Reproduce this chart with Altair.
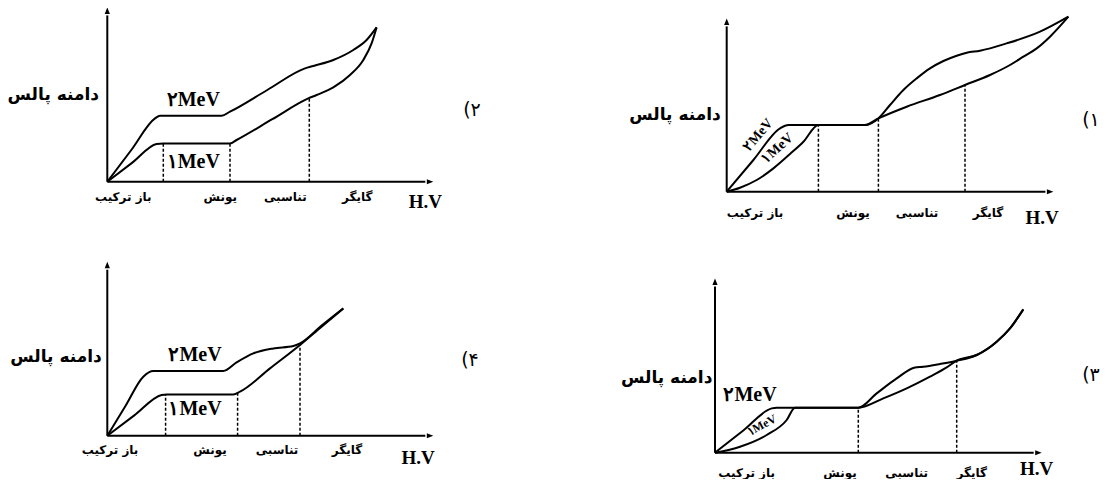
import altair as alt
import pandas as pd

# ---------------- data (local units: right / up from each panel's axis origin) ----------------
panels = ["1", "2", "3", "4"]

p1_2mev_x = [0, 26.7, 53.3, 61.7, 138.3, 151.7, 163.3, 176.7, 190, 203.3, 216.7, 230, 240, 253.3, 280, 313.3, 341.7]
p1_2mev_y = [0, 31.7, 63.3, 66.7, 66.7, 73.3, 86.7, 101.7, 113.3, 123.3, 130.7, 136, 139, 141, 148.3, 160, 175]
p1_1mev_x = [0, 13.3, 30, 46.7, 63.3, 76.7, 91.7, 138.3, 151.7, 180, 213.3, 238.3, 263.3, 283.3, 296.7, 310, 323.3, 341.7]
p1_1mev_y = [0, 4, 11.7, 23.3, 37.7, 50, 66.7, 66.7, 73.3, 85, 96.7, 106.7, 116.7, 126.7, 135, 143.3, 155, 175]
p1_dash_x = [91.7, 151.7, 238.3]
p1_dash_y = [66.7, 73.3, 106.7]

p2_2mev_x = [0, 24, 47.7, 52.7, 114.3, 122.7, 160, 197.7, 206, 226, 246, 259.3, 269.3]
p2_2mev_y = [0, 31.7, 63.3, 66, 66, 70, 91.7, 113.3, 115.7, 121.7, 131.7, 141.7, 154.3]
p2_1mev_x = [0, 24.7, 49.3, 56, 122.7, 129.3, 165, 201, 209.3, 226, 242.7, 256, 264.3, 269.3]
p2_1mev_y = [0, 18.8, 37.7, 38.3, 38.3, 41.7, 62.5, 83.3, 86.7, 94.3, 106.7, 121.7, 138.3, 154.3]
p2_dash_x = [56, 122.7, 202]
p2_dash_y = [38.3, 38.3, 84]

p3_2mev_x = [0, 28.3, 56.7, 61.7, 143.3, 161.7, 181.7, 200, 208.3, 225, 241.7, 261.7, 281.7, 295, 308.3]
p3_2mev_y = [0, 22.2, 44.3, 45, 45, 59.3, 74.3, 85.3, 86, 88.7, 92, 97.7, 111, 124.3, 143.3]
p3_1mev_x = [0, 25, 51.7, 71.7, 80, 143.3, 168.3, 191.7, 215, 231.7, 241.7, 261.7, 281.7, 295, 308.3]
p3_1mev_y = [0, 6, 17.7, 32.7, 45, 45, 54.3, 64.3, 76, 85.3, 92, 97.7, 111, 124.3, 143.3]
p3_dash_x = [143.3, 241.7]
p3_dash_y = [45, 92]

p4_2mev_x = [0, 18, 36, 46, 116, 129.3, 146, 166, 186, 192.7, 214, 236]
p4_2mev_y = [0, 29.5, 59, 64.7, 64.7, 73.3, 82.3, 87.3, 89.7, 92.3, 109.8, 127.3]
p4_1mev_x = [0, 27, 54.3, 59.3, 126, 132.7, 162.7, 192.7, 214, 236]
p4_1mev_y = [0, 20.3, 40.7, 41.3, 41.3, 44, 67.3, 90.7, 108.8, 127.3]
p4_dash_x = [58.3, 130.3, 192.7]
p4_dash_y = [41.3, 44, 90.7]

axis_top = {"1": 173.3, "2": 174.3, "3": 174.3, "4": 174}
axis_right = {"1": 326.7, "2": 326, "3": 326.7, "4": 326}

region_labels = ["باز ترکیب", "یونش", "تناسبی", "گایگر"]
y_title = "دامنه پالس"
x_title = "H.V"
panel_labels = {"1": "(۱", "2": "(۲", "3": "(۳", "4": "(۴"}
series_labels = ["۲MeV", "۱MeV"]

# ---------------- layout (page positions of each panel's axis origin, label offsets) ----------------
origin = {"1": (726.7, 191.7), "2": (107.3, 181.7), "3": (715, 452.7), "4": (107.3, 435.7)}
region_label_pos = {
    "1": ([28.3, 126.3, 190.3, 261.3], -21.3),
    "2": ([16, 113, 178, 250], -15.3),
    "3": ([31.7, 125, 191.7, 256.7], -20.7),
    "4": ([2.7, 102.7, 169.7, 239.7], -14.3),
}
x_title_pos = {"1": (315.3, -26.3), "2": (318, -20), "3": (321.7, -16), "4": (310.7, -22.3)}
y_title_pos = {"1": (-51.7, 76.7), "2": (-54, 86.7), "3": (-48.3, 74.3), "4": (-51.3, 79)}
panel_label_pos = {"1": (364.3, 71.7), "2": (364.7, 71.7), "3": (376, 77.7), "4": (362.7, 75.7)}
# (x, y, size, angle) for 2MeV / 1MeV
series_label_pos = {
    "1": [(31.7, 56.7, 14, 310), (50.7, 43.3, 14, 318)],
    "2": [(86, 81.7, 20, 0), (86, 19.3, 20, 0)],
    "3": [(35, 57.7, 20, 0), (46.7, 27.7, 12, 332)],
    "4": [(87.7, 80.7, 20, 0), (87.7, 26.3, 20, 0)],
}

W, H = 1094, 471


def to_plot(p, dx, dy):
    ox, oy = origin[p]
    return ox - 8 + dx, 479 - oy + dy


curve_src = {
    "1": [(p1_2mev_x, p1_2mev_y), (p1_1mev_x, p1_1mev_y)],
    "2": [(p2_2mev_x, p2_2mev_y), (p2_1mev_x, p2_1mev_y)],
    "3": [(p3_2mev_x, p3_2mev_y), (p3_1mev_x, p3_1mev_y)],
    "4": [(p4_2mev_x, p4_2mev_y), (p4_1mev_x, p4_1mev_y)],
}
dash_src = {"1": (p1_dash_x, p1_dash_y), "2": (p2_dash_x, p2_dash_y),
            "3": (p3_dash_x, p3_dash_y), "4": (p4_dash_x, p4_dash_y)}

curve_rows, dash_rows, axis_rows, arrow_up, arrow_right = [], [], [], [], []
reg_rows, xt_rows, yt_rows, pl_rows, sl_rows = [], [], [], [], []
for p in panels:
    for si, (xs, ys) in enumerate(curve_src[p]):
        for i, (a, b) in enumerate(zip(xs, ys)):
            X, Y = to_plot(p, a, b)
            curve_rows.append({"key": f"{p}-{si}", "x": X, "y": Y, "o": i})
    for a, b in zip(*dash_src[p]):
        X, Y0 = to_plot(p, a, 0)
        _, Y1 = to_plot(p, a, b)
        dash_rows.append({"x": X, "y": Y0, "y2": Y1})
    X0, Y0 = to_plot(p, 0, 0)
    Xt, Yt = to_plot(p, 0, axis_top[p])
    Xr, Yr = to_plot(p, axis_right[p], 0)
    axis_rows.append({"x": X0, "y": Y0, "x2": X0, "y2": Yt - 8})
    axis_rows.append({"x": X0, "y": Y0, "x2": Xr - 8, "y2": Y0})
    arrow_up.append({"x": Xt, "y": Yt})
    arrow_right.append({"x": Xr, "y": Yr})
    xs, yy = region_label_pos[p]
    for lab, a in zip(region_labels, xs):
        X, Y = to_plot(p, a, yy)
        reg_rows.append({"x": X, "y": Y, "t": lab})
    X, Y = to_plot(p, *x_title_pos[p])
    xt_rows.append({"x": X, "y": Y, "t": x_title})
    X, Y = to_plot(p, *y_title_pos[p])
    yt_rows.append({"x": X, "y": Y, "t": y_title})
    X, Y = to_plot(p, *panel_label_pos[p])
    pl_rows.append({"x": X, "y": Y, "t": panel_labels[p]})
    for lab, (a, b, s, ang) in zip(series_labels, series_label_pos[p]):
        X, Y = to_plot(p, a, b)
        sl_rows.append({"x": X, "y": Y, "t": lab, "s": s, "a": ang})

xs_ = alt.Scale(domain=[0, W], nice=False, zero=False)
ys_ = alt.Scale(domain=[0, H], nice=False, zero=False)


def X(f="x"):
    return alt.X(f, type="quantitative", scale=xs_, axis=None)


def Y(f="y"):
    return alt.Y(f, type="quantitative", scale=ys_, axis=None)


curves = alt.Chart(pd.DataFrame(curve_rows)).mark_line(
    color="black", strokeWidth=2, interpolate="monotone"
).encode(x=X(), y=Y(), detail="key:N", order="o:Q")

dashes = alt.Chart(pd.DataFrame(dash_rows)).mark_rule(
    color="black", strokeWidth=1.5, strokeDash=[3, 2]
).encode(x=X(), y=Y(), y2="y2:Q")

axes = alt.Chart(pd.DataFrame(axis_rows)).mark_rule(
    color="black", strokeWidth=2
).encode(x=X(), y=Y(), x2="x2:Q", y2="y2:Q")

up = alt.Chart(pd.DataFrame(arrow_up)).mark_point(
    shape="M0,0L-0.4,1L0.4,1Z", filled=True, color="black", opacity=1, size=169
).encode(x=X(), y=Y())

right = alt.Chart(pd.DataFrame(arrow_right)).mark_point(
    shape="M0,0L-1,-0.38L-1,0.38Z", filled=True, color="black", opacity=1, size=169
).encode(x=X(), y=Y())

reg = alt.Chart(pd.DataFrame(reg_rows)).mark_text(
    font="DejaVu Sans", fontSize=12, fontWeight="bold", color="black",
    align="center", baseline="middle"
).encode(x=X(), y=Y(), text="t:N")

xt = alt.Chart(pd.DataFrame(xt_rows)).mark_text(
    font="Liberation Serif", fontSize=19, fontWeight="bold", color="black",
    align="center", baseline="middle"
).encode(x=X(), y=Y(), text="t:N")

yt = alt.Chart(pd.DataFrame(yt_rows)).mark_text(
    font="DejaVu Sans", fontSize=17, fontWeight="bold", color="black",
    align="center", baseline="middle"
).encode(x=X(), y=Y(), text="t:N")

pl = alt.Chart(pd.DataFrame(pl_rows)).mark_text(
    font="DejaVu Sans", fontSize=19, color="black",
    align="center", baseline="middle"
).encode(x=X(), y=Y(), text="t:N")

sl = alt.Chart(pd.DataFrame(sl_rows)).mark_text(
    font="Liberation Serif", fontWeight="bold", color="black",
    align="center", baseline="middle"
).encode(x=X(), y=Y(), text="t:N",
         size=alt.Size("s:Q", scale=None, legend=None),
         angle=alt.Angle("a:Q", scale=None, legend=None))

chart = alt.layer(curves, dashes, axes, up, right, reg, xt, yt, pl, sl).properties(
    width=W, height=H, autosize=alt.AutoSizeParams(type="none"), padding=0,
    background="white"
).configure_view(stroke=None)

chart.save("out.html", embed_options={"renderer": "svg", "actions": False})
